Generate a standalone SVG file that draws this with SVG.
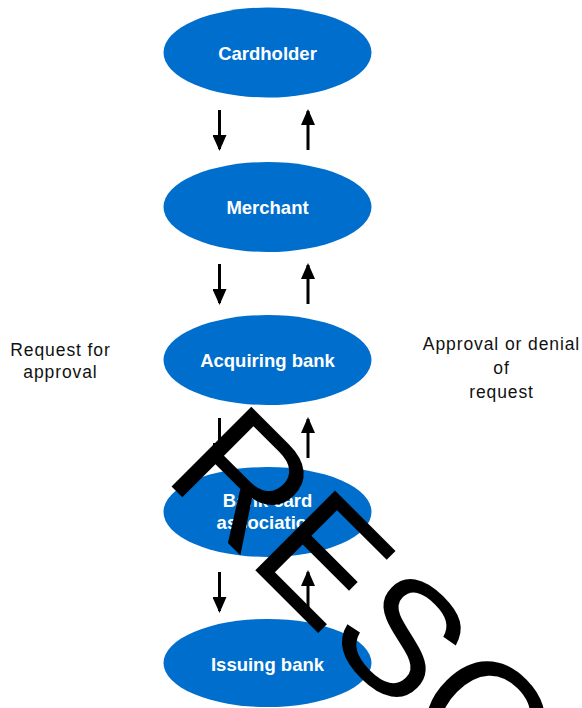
<svg xmlns="http://www.w3.org/2000/svg" width="582" height="708" viewBox="0 0 582 708">
<style>
.node ellipse{fill:#006ECC}
.node text{font-family:"Liberation Sans",Arial,sans-serif;font-weight:bold;font-size:18.5px;fill:#ffffff;text-anchor:middle}
.lbl{font-family:"Liberation Sans",Arial,sans-serif;font-size:17.5px;letter-spacing:0.9px;fill:#111111;text-anchor:middle}
.arr{stroke:#000;stroke-width:3;fill:none;marker-end:url(#ah)}
.wm{font-family:"Liberation Sans",Arial,sans-serif;font-size:164px;fill:#000}
</style>
<defs>
<marker id="ah" viewBox="0 0 16 14" refX="14" refY="7" markerWidth="16" markerHeight="14" markerUnits="userSpaceOnUse" orient="auto">
<path d="M0,0 L16,7 L0,14 Z" fill="#000"/>
</marker>
</defs>
<rect width="582" height="708" fill="#ffffff"/>
<g id="connectors">
<line class="arr" x1="219.5" y1="110" x2="219.5" y2="149"/>
<line class="arr" x1="308" y1="150" x2="308" y2="111"/>
<line class="arr" x1="219.5" y1="264" x2="219.5" y2="303"/>
<line class="arr" x1="308" y1="304" x2="308" y2="265"/>
<line class="arr" x1="219.5" y1="418" x2="219.5" y2="457"/>
<line class="arr" x1="308" y1="458" x2="308" y2="419"/>
<line class="arr" x1="219.5" y1="572" x2="219.5" y2="611"/>
<line class="arr" x1="308" y1="611" x2="308" y2="572"/>
</g>
<g id="cardholder" class="node">
<ellipse cx="267.5" cy="52.5" rx="104" ry="45"/>
<text x="267.5" y="59.5">Cardholder</text>
</g>
<g id="merchant" class="node">
<ellipse cx="267.5" cy="207" rx="104" ry="45"/>
<text x="267.5" y="214">Merchant</text>
</g>
<g id="acquiring" class="node">
<ellipse cx="267.5" cy="360" rx="104" ry="45"/>
<text x="267.5" y="366.5">Acquiring bank</text>
</g>
<g id="association" class="node">
<ellipse cx="267.5" cy="512" rx="104" ry="45"/>
<text x="267.5" y="507">Bank card</text>
<text x="267.5" y="529">association</text>
</g>
<g id="issuing" class="node">
<ellipse cx="267.5" cy="663" rx="104" ry="44"/>
<text x="267.5" y="671">Issuing bank</text>
</g>
<g id="labels">
<text class="lbl" x="60.5" y="355.5">Request for</text>
<text class="lbl" x="60.5" y="377.5">approval</text>
<text class="lbl" x="501.5" y="349.5">Approval or denial</text>
<text class="lbl" x="501.5" y="373.5">of</text>
<text class="lbl" x="501.5" y="397.5">request</text>
</g>
<g id="watermark">
<text class="wm" transform="translate(162,477) rotate(45)">RESO</text>
</g>
</svg>
